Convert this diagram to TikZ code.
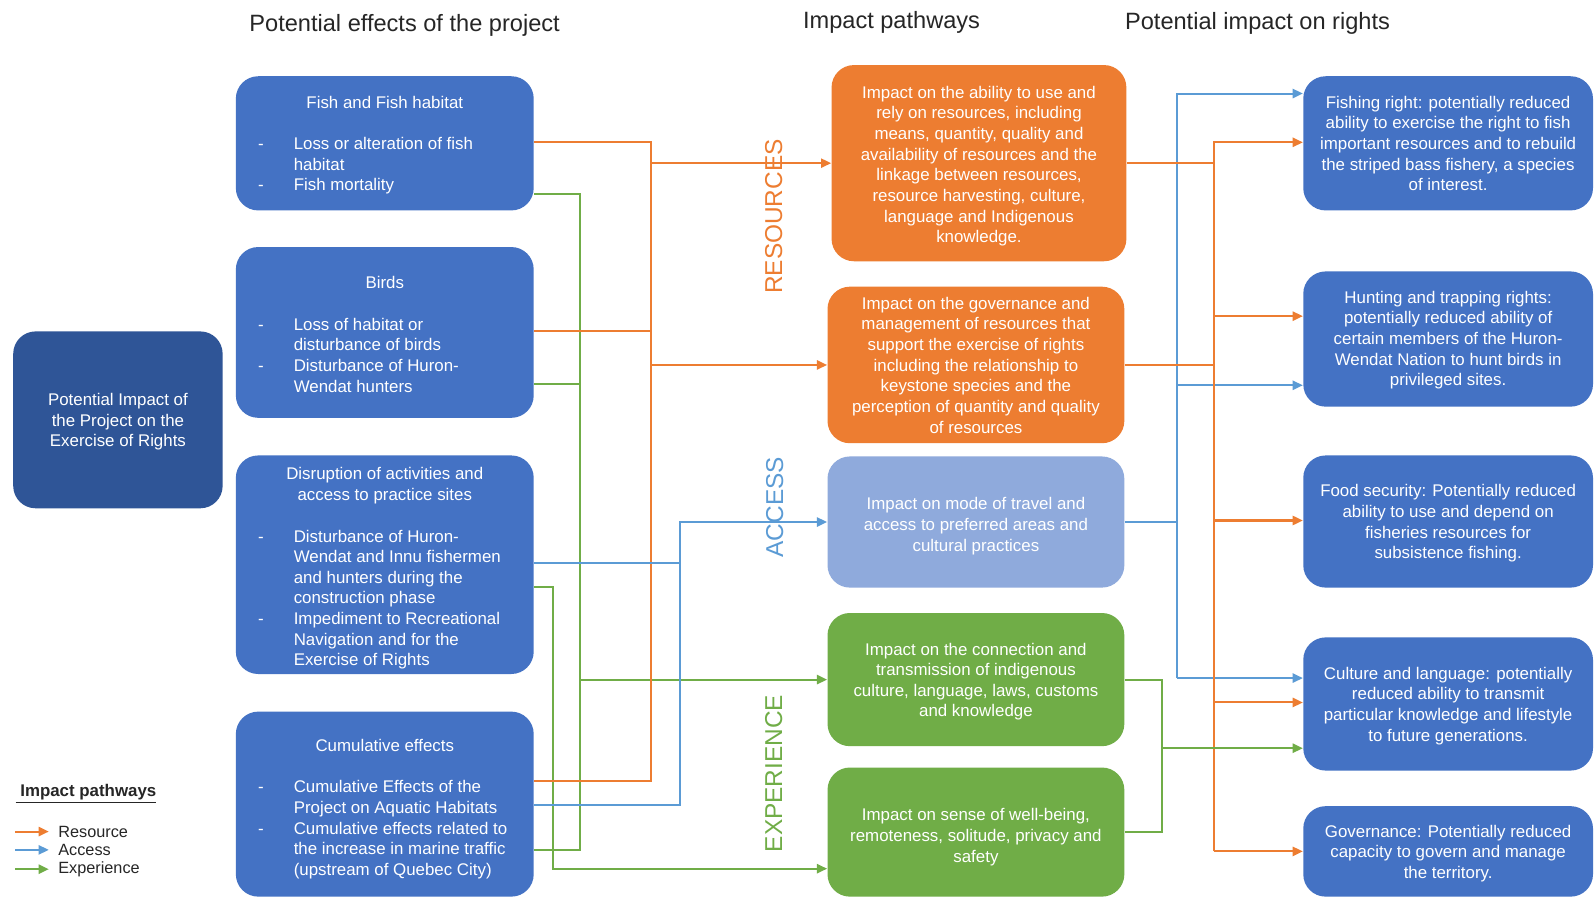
\documentclass[tikz,border=0pt]{standalone}
\usepackage{fontspec}
\setmainfont{Liberation Sans}
\usetikzlibrary{arrows.meta,calc}
\definecolor{boxblue}{HTML}{4472C4}
\definecolor{darkblue}{HTML}{2F5597}
\definecolor{orng}{HTML}{ED7D31}
\definecolor{lblue}{HTML}{8FAADC}
\definecolor{grn}{HTML}{70AD47}
\definecolor{lineblue}{HTML}{5B9BD5}
\definecolor{titlegray}{HTML}{262626}
\newcommand{\ttlrow}[1]{\multicolumn{2}{@{}c@{}}{\makebox[124.5pt]{#1}}}
\newcommand{\boxtext}[2][1pt]{\raisebox{-#1}[\height][\depth]{\begin{tabular}{@{}c@{}}#2\end{tabular}}}
\newcommand{\listtext}[2][1.8pt]{\raisebox{-#1}[\height][\depth]{\begin{tabular}{@{}p{17.5pt}@{}l@{}}#2\end{tabular}}}
\begin{document}
\begin{tikzpicture}[x=0.5pt,y=-0.5pt,
  box/.style={rounded corners=11pt, inner sep=0pt, text=white, font=\fontsize{8.3}{10.15}\selectfont},
  lbox/.style={box, fill=boxblue, minimum width=146.5pt},
  mbox/.style={box, minimum width=146pt},
  rbox/.style={box, fill=boxblue, minimum width=142.5pt},
  conn/.style={line width=1pt},
  res/.style={conn, draw=orng},
  acc/.style={conn, draw=lineblue},
  exp/.style={conn, draw=grn},
  arr/.style={-{Triangle[length=5pt,width=4.5pt]}},
  head/.style={font=\fontsize{11.6}{13}\selectfont, text=titlegray},
  vlab/.style={rotate=90, font=\fontsize{12}{14}\selectfont, inner sep=0pt},
  legtxt/.style={anchor=west, inner xsep=4.5pt, inner ysep=0pt, font=\fontsize{8}{10}\selectfont, text=titlegray}
]
\useasboundingbox (0,0) rectangle (1568,884);
\clip (0,0) rectangle (1568,884);
\fill[white] (0,0) rectangle (1568,884);

% headings
\node[head] (t1) at (398,25) {Potential effects of the project};
\node[head] (t2) at (877,22) {Impact pathways};
\node[head] (t3) at (1237,23) {Potential impact on rights};

% main box
\node[box, fill=darkblue, minimum width=103pt, minimum height=87pt] (main) at (116,413)
  {\boxtext[1.1pt]{Potential Impact of\\the Project on the\\Exercise of Rights}};

% left column
\node[lbox, minimum height=66pt] (fish) at (378.5,141) {\listtext[1pt]{
\ttlrow{Fish and Fish habitat}\\[10.2pt]
-&Loss or alteration of fish\\
&habitat\\
-&Fish mortality}};
\node[lbox, minimum height=84pt] (birds) at (378.5,327) {\listtext[2pt]{
\ttlrow{Birds}\\[10.2pt]
-&Loss of habitat or\\
&disturbance of birds\\
-&Disturbance of Huron-\\
&Wendat hunters}};
\node[lbox, minimum height=107.5pt] (dis) at (378.5,555.5) {\listtext[2pt]{
\ttlrow{Disruption of activities and}\\
\ttlrow{access to practice sites}\\[10.2pt]
-&Disturbance of Huron-\\
&Wendat and Innu fishermen\\
&and hunters during the\\
&construction phase\\
-&Impediment to Recreational\\
&Navigation and for the\\
&Exercise of Rights}};
\node[lbox, minimum height=91pt] (cum) at (378.5,791) {\listtext[2.5pt]{
\ttlrow{Cumulative effects}\\[10.2pt]
-&Cumulative Effects of the\\
&Project on Aquatic Habitats\\
-&Cumulative effects related to\\
&the increase in marine traffic\\
&(upstream of Quebec City)}};

% middle column
\node[mbox, fill=orng, minimum width=145pt, minimum height=96.5pt] (ores1) at (963,160.5)
  {\boxtext[1.6pt]{Impact on the ability to use and\\rely on resources, including\\means, quantity, quality and\\availability of resources and the\\linkage between resources,\\resource harvesting, culture,\\language and Indigenous\\knowledge.}};
\node[mbox, fill=orng, minimum height=77pt] (ores2) at (960,359)
  {\boxtext[1pt]{Impact on the governance and\\management of resources that\\support the exercise of rights\\including the relationship to\\keystone species and the\\perception of quantity and quality\\of resources}};
\node[mbox, fill=lblue, minimum height=64.5pt] (acc) at (960,513.5)
  {\boxtext[2.1pt]{Impact on mode of travel and\\access to preferred areas and\\cultural practices}};
\node[mbox, fill=grn, minimum height=65.5pt] (gr1) at (960,668.5)
  {\boxtext[1.1pt]{Impact on the connection and\\transmission of indigenous\\culture, language, laws, customs\\and knowledge}};
\node[mbox, fill=grn, minimum height=63.5pt] (gr2) at (960,818.5)
  {\boxtext[2.6pt]{Impact on sense of well-being,\\remoteness, solitude, privacy and\\safety}};

% right column
\node[rbox, minimum height=66pt] (fishing) at (1424.5,141)
  {\boxtext[1pt]{Fishing right: potentially reduced\\ability to exercise the right to fish\\important resources and to rebuild\\the striped bass fishery, a species\\of interest.}};
\node[rbox, minimum height=66.5pt] (hunt) at (1424.5,333.5)
  {\boxtext[0.6pt]{Hunting and trapping rights:\\potentially reduced ability of\\certain members of the Huron-\\Wendat Nation to hunt birds in\\privileged sites.}};
\node[rbox, minimum height=65pt] (food) at (1424.5,513)
  {\boxtext[1.1pt]{Food security: Potentially reduced\\ability to use and depend on\\fisheries resources for\\subsistence fishing.}};
\node[rbox, minimum height=65.5pt] (cult) at (1424.5,692.5)
  {\boxtext[1pt]{Culture and language: potentially\\reduced ability to transmit\\particular knowledge and lifestyle\\to future generations.}};
\node[rbox, minimum height=44.5pt] (gov) at (1424.5,837.5)
  {\boxtext[1.1pt]{Governance: Potentially reduced\\capacity to govern and manage\\the territory.}};

% vertical labels
\node[vlab, text=orng] (vres) at (761,213) {RESOURCES};
\node[vlab, text=lineblue] (vacc) at (762,499) {ACCESS};
\node[vlab, text=grn] (vexp) at (761,761) {EXPERIENCE};

% connection points
\coordinate (fishR) at ($(fish.east)+(0,-1)$);
\coordinate (fishE) at ($(fish.east)+(0,50)$);
\coordinate (birdR) at ($(birds.east)+(0,-1)$);
\coordinate (birdE) at ($(birds.east)+(0,51)$);
\coordinate (disA) at ($(dis.east)+(0,-1.5)$);
\coordinate (disE) at ($(dis.east)+(0,21.5)$);
\coordinate (cumR) at ($(cum.east)+(0,-23)$);
\coordinate (cumA) at ($(cum.east)+(0,1)$);
\coordinate (cumE) at ($(cum.east)+(0,45)$);
\coordinate (gr2in) at ($(gr2.west)+(0,36)$);
\coordinate (fishingR) at ($(fishing.west)+(0,-1)$);
\coordinate (fishingA) at ($(fishing.west)+(0,-49)$);
\coordinate (huntR) at ($(hunt.west)+(0,-22.5)$);
\coordinate (huntA) at ($(hunt.west)+(0,45.5)$);
\coordinate (foodR) at ($(food.west)+(0,-1)$);
\coordinate (cultA) at ($(cult.west)+(0,-25.5)$);
\coordinate (cultR) at ($(cult.west)+(0,-1.5)$);
\coordinate (cultE) at ($(cult.west)+(0,43.5)$);

% bus x positions
\coordinate (ob) at (640,0);
\coordinate (eb) at (571,0);
\coordinate (eb2) at (544,0);
\coordinate (ab) at (669,0);
\coordinate (rb) at (1194,0);
\coordinate (ab2) at (1158,0);
\coordinate (gb) at (1143,0);

% left connectors
\draw[exp] (fishE) -| (eb |- cumE) -- (cumE);
\draw[exp] (birdE) -- (eb |- birdE);
\draw[exp,arr] (eb |- gr1.west) -- (gr1.west);
\draw[exp,arr] (disE) -| (eb2 |- gr2in) -- (gr2in);
\draw[res] (fishR) -| (ob |- cumR) -- (cumR);
\draw[res] (birdR) -- (ob |- birdR);
\draw[res,arr] (ob |- ores1.west) -- (ores1.west);
\draw[res,arr] (ob |- ores2.west) -- (ores2.west);
\draw[acc] (disA) -- (ab |- disA);
\draw[acc,arr] (cumA) -| (ab |- acc.west) -- (acc.west);

% right connectors
\draw[acc] (acc.east) -- (ab2 |- acc.east);
\draw[acc,arr] (ab2 |- cultA) |- (fishingA);
\draw[acc,arr] (ab2 |- huntA) -- (huntA);
\draw[acc,arr] (ab2 |- cultA) -- (cultA);
\draw[res] (ores1.east) -- (rb |- ores1.east);
\draw[res] (ores2.east) -- (rb |- ores2.east);
\draw[res,arr] (rb |- gov.west) |- (fishingR);
\draw[res,arr] (rb |- huntR) -- (huntR);
\draw[res,arr] (rb |- foodR) -- (foodR);
\draw[res,arr] (rb |- cultR) -- (cultR);
\draw[res,arr] (rb |- gov.west) -- (gov.west);
\draw[exp] (gr1.east) -| (gb |- gr2.east) -- (gr2.east);
\draw[exp,arr] (gb |- cultE) -- (cultE);

% legend
\node[anchor=west, inner sep=0pt, font=\fontsize{8.3}{10}\selectfont\bfseries, text=titlegray] (legt) at (15,781) {\underline{\ Impact pathways}};
\coordinate (lg1) at (15,818);
\coordinate (lg2) at (15,836);
\coordinate (lg3) at (15,855);
\node[legtxt] (lgr) at (48,818) {Resource};
\node[legtxt] (lga) at (48,836) {Access};
\node[legtxt] (lge) at (48,855) {Experience};
\draw[res,arr] (lg1) -- (lgr.west);
\draw[acc,arr] (lg2) -- (lga.west);
\draw[exp,arr] (lg3) -- (lge.west);
\end{tikzpicture}
\end{document}
